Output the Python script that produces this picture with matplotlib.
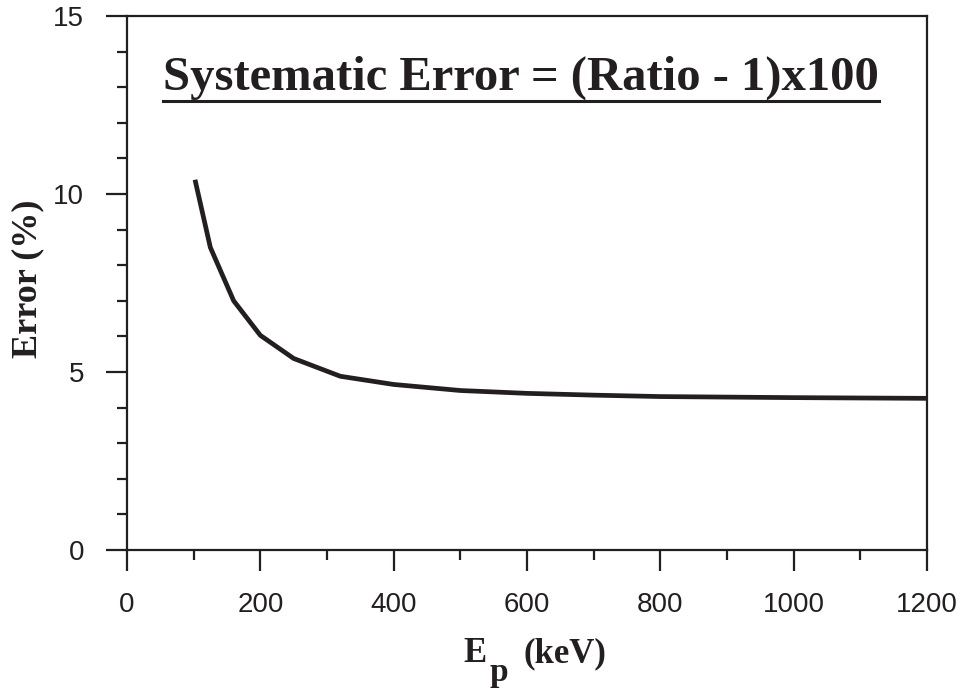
import matplotlib
matplotlib.use('Agg')
import matplotlib.pyplot as plt
from matplotlib.ticker import MultipleLocator

# curve
ep_kev = [102, 125, 160, 200, 250, 320, 400, 500, 600, 700, 800, 1000, 1200]
error_pct = [10.4, 8.5, 7.0, 6.03, 5.38, 4.88, 4.65, 4.48, 4.40, 4.35, 4.31, 4.28, 4.26]

ink = '#231f20'
W, H = 963, 692

fig = plt.figure(figsize=(W/100, H/100), dpi=100)
ax = fig.add_axes([127/W, 1-550/H, 800/W, 534/H])
ax.plot(ep_kev, error_pct, color=ink, lw=3.4, solid_capstyle='butt')

ax.set_xlim(0, 1200)
ax.set_ylim(0, 15)
ax.xaxis.set_major_locator(MultipleLocator(200))
ax.xaxis.set_minor_locator(MultipleLocator(100))
ax.yaxis.set_major_locator(MultipleLocator(5))
ax.yaxis.set_minor_locator(MultipleLocator(1))
ax.tick_params(which='both', direction='out', color=ink, width=1.6, labelsize=20,
               labelcolor=ink)
ax.tick_params(which='major', length=15)
ax.tick_params(which='minor', length=7.5)
ax.tick_params(axis='x', which='major', pad=15)
ax.tick_params(axis='y', which='major', pad=16)
for lab in ax.get_xticklabels() + ax.get_yticklabels():
    lab.set_fontfamily('Liberation Sans')
for s in ax.spines.values():
    s.set_color(ink)
    s.set_linewidth(1.6)

# axis labels
fig.text(28/W, 1-279/H, 'Error (%)', rotation=90, ha='center', va='center',
         fontsize=26, fontweight='bold', family='Liberation Serif', color=ink)
fig.text(487/W, 1-662/H, 'E', ha='right', va='baseline', fontsize=25,
         fontweight='bold', family='Liberation Serif', color=ink)
fig.text(489/W, 1-681/H, 'p', ha='left', va='baseline', fontsize=24,
         fontweight='bold', family='Liberation Serif', color=ink)
fig.text(523/W, 1-662/H, '(keV)', ha='left', va='baseline', fontsize=25,
         fontweight='bold', family='Liberation Serif', color=ink)

t = fig.text(521/W, 1-78/H, 'Systematic Error = (Ratio - 1)x100', ha='center',
             va='center', fontsize=35, fontweight='bold', family='Liberation Serif',
             color=ink)
fig.canvas.draw()
bb = t.get_window_extent()
y_ul = (1-101/H)
fig.add_artist(plt.Line2D([bb.x0/W, bb.x1/W], [y_ul, y_ul],
                          color=ink, lw=2.2, transform=fig.transFigure))

fig.savefig('out.png', dpi=100)
